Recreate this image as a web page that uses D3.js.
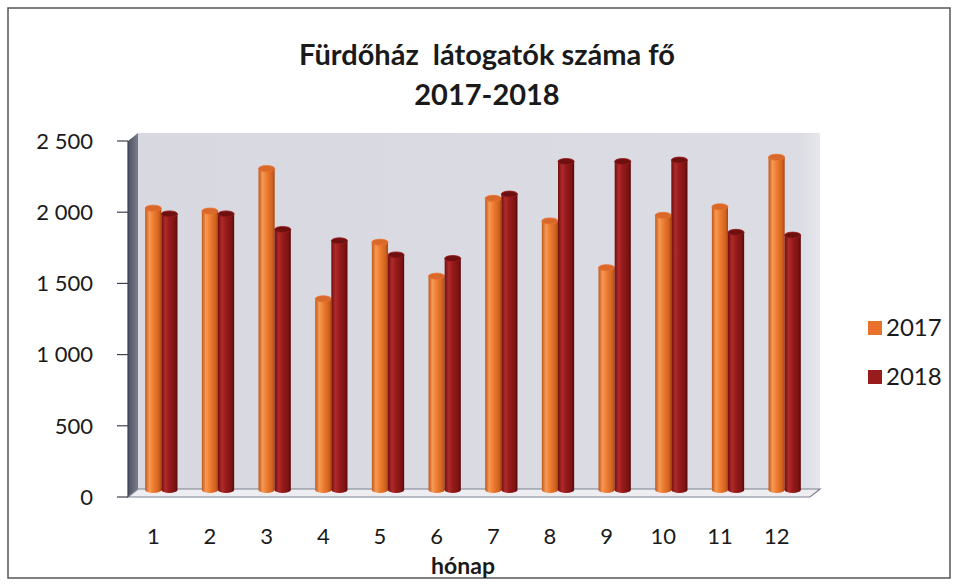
<!DOCTYPE html>
<html>
<head>
<meta charset="utf-8">
<script src="https://cdn.jsdelivr.net/npm/d3@7"></script>
<style>
  html, body { margin: 0; padding: 0; background: #fff; }
  svg text { font-family: Lato, "Open Sans", sans-serif; fill: #1a1a1a; }
</style>
</head>
<body>
<div id="chart"></div>
<script>
// chart data
const months = ['1', '2', '3', '4', '5', '6', '7', '8', '9', '10', '11', '12'];
const seriesNames = ['2017', '2018'];
const values2017 = [1990, 1970, 2270, 1350, 1750, 1510, 2060, 1900, 1570, 1940, 2000, 2350];
const values2018 = [1950, 1950, 1840, 1760, 1660, 1635, 2090, 2320, 2320, 2330, 1820, 1800];
const yTicks = [0, 500, 1000, 1500, 2000, 2500];
const titleLines = ['Fürdőház  látogatók száma fő', '2017-2018'];
const xTitle = 'hónap';

const width = 959, height = 586;
const depth = { dx: 10, dy: 8 };   // offset of the back wall vs. the front axis

const svg = d3.select('#chart').append('svg')
    .attr('width', width)
    .attr('height', height);

const defs = svg.append('defs');

function cylGrad(id, stops) {
    const g = defs.append('linearGradient').attr('id', id)
        .attr('x1', '0%').attr('x2', '100%').attr('y1', '0%').attr('y2', '0%');
    stops.forEach(s => g.append('stop').attr('offset', s[0]).attr('stop-color', s[1]));
}
cylGrad('g2017', [['0%', '#c4561a'], ['25%', '#f59a55'], ['50%', '#ee7d31'], ['85%', '#d0621f'], ['100%', '#a8450f']]);
cylGrad('g2018', [['0%', '#6e0f0f'], ['25%', '#b12a2a'], ['50%', '#961b1b'], ['85%', '#7c1212'], ['100%', '#560808']]);
cylGrad('gSide', [['0%', '#4d5160'], ['100%', '#7a7e8c']]);

const wallGrad = defs.append('linearGradient').attr('id', 'gWall')
    .attr('x1', '0%').attr('x2', '100%').attr('y1', '0%').attr('y2', '0%');
wallGrad.append('stop').attr('offset', '0%').attr('stop-color', '#d8d8e1');
wallGrad.append('stop').attr('offset', '97%').attr('stop-color', '#dcdce4');
wallGrad.append('stop').attr('offset', '100%').attr('stop-color', '#e6e6ec');

const colors = { '2017': 'url(#g2017)', '2018': 'url(#g2018)' };
const capColors = { '2017': '#d9682a', '2018': '#6f1010' };
const legendColors = { '2017': '#e8712c', '2018': '#9a1b1b' };

// outer frame
svg.append('rect')
    .attr('x', 8).attr('y', 8)
    .attr('width', 942).attr('height', 570)
    .attr('fill', 'none')
    .attr('stroke', '#555')
    .attr('stroke-width', 1.5);

// front axis geometry
const front = { left: 128, right: 810, top: 141, bottom: 497 };

// scales: front (labels) and back (bars, sitting on the wall)
const yFront = d3.scaleLinear().domain([0, 2500]).range([front.bottom, front.top]);
const yBack = d3.scaleLinear().domain([0, 2500]).range([front.bottom - depth.dy + 1, front.top - depth.dy + 3]);

const xBack = d3.scaleBand().domain(months)
    .range([133, 813]).paddingInner(0.43).paddingOuter(0.215);
const xFront = d3.scaleBand().domain(months)
    .range([125, 805]).paddingInner(0.43).paddingOuter(0.215);
const xSub = d3.scaleBand().domain(seriesNames).range([0, xBack.bandwidth()]);

// back wall
svg.append('rect')
    .attr('x', front.left + depth.dx)
    .attr('y', front.top - depth.dy)
    .attr('width', front.right - front.left)
    .attr('height', front.bottom - front.top)
    .attr('fill', 'url(#gWall)');

// left side wall
svg.append('polygon')
    .attr('points', [
        [front.left, front.top],
        [front.left + depth.dx, front.top - depth.dy],
        [front.left + depth.dx, front.bottom - depth.dy],
        [front.left, front.bottom]
    ].map(p => p.join(',')).join(' '))
    .attr('fill', 'url(#gSide)');

// floor
svg.append('polygon')
    .attr('points', [
        [front.left, front.bottom],
        [front.left + depth.dx, front.bottom - depth.dy],
        [front.right + depth.dx, front.bottom - depth.dy],
        [front.right, front.bottom]
    ].map(p => p.join(',')).join(' '))
    .attr('fill', '#eeeef2')
    .attr('stroke', '#7d8190')
    .attr('stroke-width', 1.2);

// front axis line
svg.append('line')
    .attr('x1', front.left).attr('x2', front.left)
    .attr('y1', front.top).attr('y2', front.bottom)
    .attr('stroke', '#3f4250').attr('stroke-width', 1.2);

// y ticks + labels
const yAxis = svg.append('g');
yAxis.selectAll('line.tick')
    .data(yTicks).enter().append('line')
    .attr('x1', front.left - 11).attr('x2', front.left)
    .attr('y1', d => yFront(d)).attr('y2', d => yFront(d))
    .attr('stroke', '#3f4250').attr('stroke-width', 1.2);
yAxis.selectAll('text')
    .data(yTicks).enter().append('text')
    .attr('x', 93)
    .attr('y', d => yFront(d))
    .attr('dy', '0.35em')
    .attr('text-anchor', 'end')
    .style('font-size', '22px')
    .text(d => d3.format(',')(d).replace(',', '\u00a0'));

// bars as cylinders
const rows = months.map((m, i) => ({ month: m, '2017': values2017[i], '2018': values2018[i] }));
const groups = svg.selectAll('g.month')
    .data(rows).enter().append('g')
    .attr('class', 'month')
    .attr('transform', d => `translate(${xBack(d.month)},0)`);

const bars = groups.selectAll('g.bar')
    .data(d => seriesNames.map(s => ({ key: s, value: d[s] })))
    .enter().append('g')
    .attr('class', 'bar');

const capRy = 3;
bars.append('ellipse')
    .attr('cx', d => xSub(d.key) + xSub.bandwidth() / 2)
    .attr('cy', yBack(0))
    .attr('rx', xSub.bandwidth() / 2)
    .attr('ry', capRy)
    .attr('fill', d => colors[d.key]);
bars.append('rect')
    .attr('x', d => xSub(d.key))
    .attr('y', d => yBack(d.value))
    .attr('width', xSub.bandwidth())
    .attr('height', d => yBack(0) - yBack(d.value))
    .attr('fill', d => colors[d.key]);
bars.append('ellipse')
    .attr('cx', d => xSub(d.key) + xSub.bandwidth() / 2)
    .attr('cy', d => yBack(d.value))
    .attr('rx', xSub.bandwidth() / 2)
    .attr('ry', capRy)
    .attr('fill', d => capColors[d.key])
    .attr('stroke', d => legendColors[d.key])
    .attr('stroke-width', 0.8);

// x labels
svg.selectAll('text.xlab')
    .data(months).enter().append('text')
    .attr('class', 'xlab')
    .attr('x', d => xFront(d) + xFront.bandwidth() / 2)
    .attr('y', 536)
    .attr('dy', '0.35em')
    .attr('text-anchor', 'middle')
    .style('font-size', '22px')
    .text(d => d);

// axis title
svg.append('text')
    .attr('x', 463).attr('y', 566)
    .attr('dy', '0.35em')
    .attr('text-anchor', 'middle')
    .style('font-size', '23px')
    .style('font-weight', 'bold')
    .text(xTitle);

// chart title
svg.selectAll('text.title')
    .data(titleLines).enter().append('text')
    .attr('class', 'title')
    .attr('x', 487)
    .attr('y', (d, i) => 55 + i * 40)
    .attr('dy', '0.35em')
    .attr('text-anchor', 'middle')
    .style('font-size', '29px')
    .style('font-weight', 'bold')
    .style('white-space', 'pre')
    .text(d => d);

// legend
const legend = svg.selectAll('g.legend')
    .data(seriesNames).enter().append('g')
    .attr('class', 'legend')
    .attr('transform', (d, i) => `translate(868,${328 + i * 49})`);
legend.append('rect')
    .attr('x', 0).attr('y', -7)
    .attr('width', 14).attr('height', 14)
    .attr('fill', d => legendColors[d]);
legend.append('text')
    .attr('x', 18).attr('y', 0)
    .attr('dy', '0.35em')
    .style('font-size', '24px')
    .text(d => d);
</script>
</body>
</html>
